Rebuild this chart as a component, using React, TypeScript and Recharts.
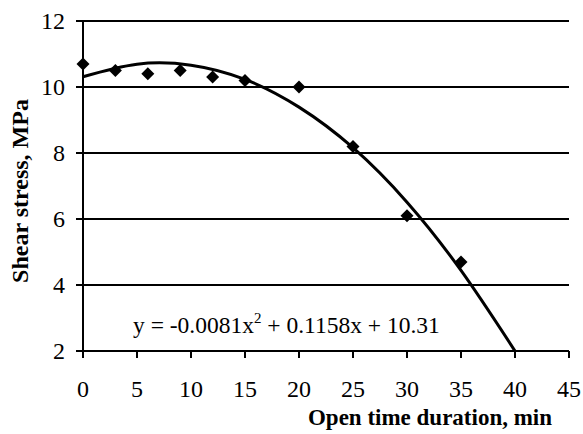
import { ComposedChart, Scatter, Line, XAxis, YAxis, CartesianGrid } from "recharts";

// measured points: open time (min) vs shear stress (MPa)
const openTime = [0, 3, 6, 9, 12, 15, 20, 25, 30, 35];
const shearStress = [10.7, 10.5, 10.4, 10.5, 10.3, 10.2, 10.0, 8.2, 6.1, 4.7];

// polynomial trendline
const trendTime = [0, 5, 10, 15, 20, 25, 30, 35, 40];
const trendStress = [10.31, 10.69, 10.66, 10.23, 9.39, 8.16, 6.51, 4.44, 2.0];

const xTicks = [0, 5, 10, 15, 20, 25, 30, 35, 40, 45];
const yTicks = [2, 4, 6, 8, 10, 12];

const points = openTime.map((x, i) => ({ x, y: shearStress[i] }));
const trend = trendTime.map((x, i) => ({ x, t: trendStress[i] }));

const font = "Liberation Serif";
const tickSize = 24;

function Diamond(props: any) {
  const { cx, cy } = props;
  const r = 6.5;
  return <polygon points={`${cx},${cy - r} ${cx + r},${cy} ${cx},${cy + r} ${cx - r},${cy}`} fill="#000" />;
}

function XTick(props: any) {
  const { x, y, payload } = props;
  return (
    <text x={x} y={y} dy={tickSize * 0.68} textAnchor="middle" fill="#000" fontFamily={font} fontSize={tickSize}>
      {payload.value}
    </text>
  );
}

function YTick(props: any) {
  const { x, y, payload } = props;
  return (
    <text x={x} y={y} dy={tickSize * 0.34} textAnchor="end" fill="#000" fontFamily={font} fontSize={tickSize}>
      {payload.value}
    </text>
  );
}

export default function App() {
  return (
    <div style={{ position: "absolute", left: 0, top: 0, width: 583, height: 434, background: "#fff", fontFamily: font }}>
      <ComposedChart width={583} height={434} margin={{ top: 21, right: 14, left: 0, bottom: 0 }}>
        <CartesianGrid vertical={false} stroke="#000" strokeWidth={2} />
        <XAxis
          dataKey="x"
          type="number"
          domain={[0, 45]}
          ticks={xTicks}
          height={83}
          tick={<XTick />}
          tickSize={7}
          tickMargin={23}
          axisLine={{ stroke: "#000", strokeWidth: 2 }}
          tickLine={{ stroke: "#000", strokeWidth: 2 }}
        />
        <YAxis
          type="number"
          domain={[2, 12]}
          ticks={yTicks}
          width={83}
          tick={<YTick />}
          tickSize={7}
          tickMargin={11}
          allowDataOverflow
          axisLine={{ stroke: "#000", strokeWidth: 2 }}
          tickLine={{ stroke: "#000", strokeWidth: 2 }}
        />
        <Line
          data={trend}
          dataKey="t"
          type="natural"
          stroke="#000"
          strokeWidth={3}
          dot={false}
          activeDot={false}
          isAnimationActive={false}
        />
        <Scatter data={points} dataKey="y" shape={<Diamond />} isAnimationActive={false} />
      </ComposedChart>
      <div
        style={{
          position: "absolute",
          left: 133,
          top: 313,
          fontSize: 23.5,
          lineHeight: "24px",
          whiteSpace: "nowrap",
          color: "#000",
        }}
      >
        y = -0.0081x<span style={{ fontSize: 15, position: "relative", top: -10 }}>2</span> + 0.1158x + 10.31
      </div>
      <div
        style={{
          position: "absolute",
          left: 430,
          top: 417,
          transform: "translate(-50%, -50%)",
          fontSize: 23,
          lineHeight: "23px",
          fontWeight: "bold",
          whiteSpace: "nowrap",
          color: "#000",
        }}
      >
        Open time duration, min
      </div>
      <div
        style={{
          position: "absolute",
          left: 20,
          top: 191,
          transform: "translate(-50%, -50%) rotate(-90deg)",
          fontSize: 24,
          lineHeight: "24px",
          fontWeight: "bold",
          whiteSpace: "nowrap",
          color: "#000",
        }}
      >
        Shear stress, MPa
      </div>
    </div>
  );
}
